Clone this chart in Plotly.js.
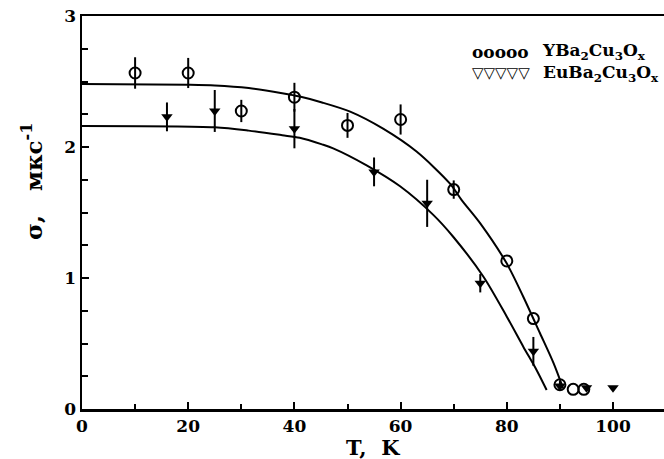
<!DOCTYPE html>
<html>
<head>
<meta charset="utf-8">
<script src="https://cdn.plot.ly/plotly-3.0.1.min.js"></script>
<style>html,body{margin:0;padding:0;background:#fff;}</style>
</head>
<body>
<div id="chart" style="width:664px;height:459px;"></div>
<script>
// YBa2Cu3Ox data (open circles)
const T_Y = [10, 20, 30, 40, 50, 60, 70, 80, 85, 90, 92.5, 94.5];
const sigma_Y = [2.565, 2.565, 2.275, 2.38, 2.165, 2.21, 1.675, 1.13, 0.69, 0.185, 0.15, 0.15];
const err_Y = [0.12, 0.115, 0.085, 0.11, 0.095, 0.115, 0.07, 0, 0, 0.03, 0, 0];

// EuBa2Cu3Ox data (filled down-triangles)
const T_Eu = [16, 25, 40, 55, 65, 75, 85, 90, 95, 100];
const sigma_Eu = [2.23, 2.275, 2.14, 1.81, 1.57, 0.96, 0.44, 0.175, 0.163, 0.163];
const err_Eu = [0.11, 0.16, 0.15, 0.11, 0.18, 0.07, 0.11, 0, 0, 0];

// Fitted curves
const fitY_T = [0, 20, 25, 31.4, 37.7, 41, 45.2, 50.5, 56.7, 63, 69.3, 71.5, 75, 80, 83.1, 86.25, 88.8, 90.6];
const fitY_s = [2.48, 2.475, 2.47, 2.45, 2.41, 2.385, 2.34, 2.27, 2.14, 1.965, 1.72, 1.595, 1.417, 1.11, 0.857, 0.578, 0.35, 0.158];
const fitEu_T = [0, 25, 31.4, 37.7, 41, 45.2, 47.3, 53.6, 59.9, 66.2, 69.9, 75.6, 80, 83.1, 85.6, 87.5];
const fitEu_s = [2.16, 2.15, 2.125, 2.09, 2.07, 2.02, 1.99, 1.86, 1.70, 1.48, 1.315, 1.01, 0.705, 0.476, 0.298, 0.145];

// Labels
const xTitle = "T,  K";
const yTitle = "σ,   мкс<sup>-1</sup>";
const legendY = "YBa<sub>2</sub>Cu<sub>3</sub>O<sub>x</sub>";
const legendEu = "EuBa<sub>2</sub>Cu<sub>3</sub>O<sub>x</sub>";

const serif = "DejaVu Serif";

const traces = [
  {x: fitY_T, y: fitY_s, mode: 'lines', line: {color: '#000', width: 2, shape: 'spline', smoothing: 0.8}, hoverinfo: 'skip'},
  {x: fitEu_T, y: fitEu_s, mode: 'lines', line: {color: '#000', width: 2, shape: 'spline', smoothing: 0.8}, hoverinfo: 'skip'},
  {x: T_Y, y: sigma_Y, mode: 'markers',
   marker: {symbol: 'circle-open', size: 11, color: '#000', line: {width: 2, color: '#000'}},
   error_y: {type: 'data', array: err_Y, visible: true, color: '#000', thickness: 2, width: 0}},
  {x: T_Eu, y: sigma_Eu, mode: 'markers',
   marker: {symbol: 'triangle-down', size: 10, color: '#000'},
   error_y: {type: 'data', array: err_Eu, visible: true, color: '#000', thickness: 2, width: 0}}
];

const tickfont = {family: serif, size: 17, color: '#000', weight: 'bold'};

const layout = {
  width: 664, height: 459,
  margin: {l: 82, r: 0, t: 16, b: 50},
  paper_bgcolor: '#fff', plot_bgcolor: '#fff',
  showlegend: false,
  xaxis: {
    range: [0, 109.6], showgrid: false, zeroline: false,
    showline: true, linewidth: 2.5, linecolor: '#000', mirror: true,
    ticks: 'inside', ticklen: 7, tickwidth: 2, tickcolor: '#000',
    tick0: 0, dtick: 20, tickfont: tickfont,
    minor: {dtick: 10, ticks: 'inside', ticklen: 5, tickwidth: 2, tickcolor: '#000'}
  },
  yaxis: {
    range: [0, 3], showgrid: false, zeroline: false,
    showline: true, linewidth: 2.5, linecolor: '#000', mirror: false,
    ticks: 'inside', ticklen: 7, tickwidth: 2, tickcolor: '#000',
    tick0: 0, dtick: 1, tickfont: tickfont,
    minor: {dtick: 0.25, ticks: 'inside', ticklen: 6, tickwidth: 2, tickcolor: '#000'}
  },
  annotations: [
    {text: xTitle, xref: 'paper', yref: 'paper', x: 0.5, y: -0.097, xanchor: 'center', yanchor: 'middle',
     showarrow: false, font: {family: serif, size: 21, color: '#000', weight: 'bold'}},
    {text: yTitle, xref: 'paper', yref: 'paper', x: -0.086, y: 0.58, xanchor: 'center', yanchor: 'middle',
     textangle: -90, showarrow: false, font: {family: serif, size: 23, color: '#000', weight: 'bold'}},
    {text: 'ooooo', xref: 'paper', yref: 'paper', x: 0.6667, y: 0.908, xanchor: 'left', yanchor: 'middle',
     showarrow: false, font: {family: serif, size: 17, color: '#000', weight: 'bold'}},
    {text: '▽▽▽▽▽', xref: 'paper', yref: 'paper', x: 0.6667, y: 0.855, xanchor: 'left', yanchor: 'middle',
     showarrow: false, font: {family: 'DejaVu Sans', size: 15, color: '#000', weight: 'bold'}},
    {text: legendY + '<br>' + legendEu, xref: 'paper', yref: 'paper', x: 0.787, y: 0.882, xanchor: 'left', yanchor: 'middle',
     align: 'left', showarrow: false, font: {family: serif, size: 17, color: '#000', weight: 'bold'}}
  ]
};

Plotly.newPlot('chart', traces, layout, {displayModeBar: false, staticPlot: true});
</script>
</body>
</html>
